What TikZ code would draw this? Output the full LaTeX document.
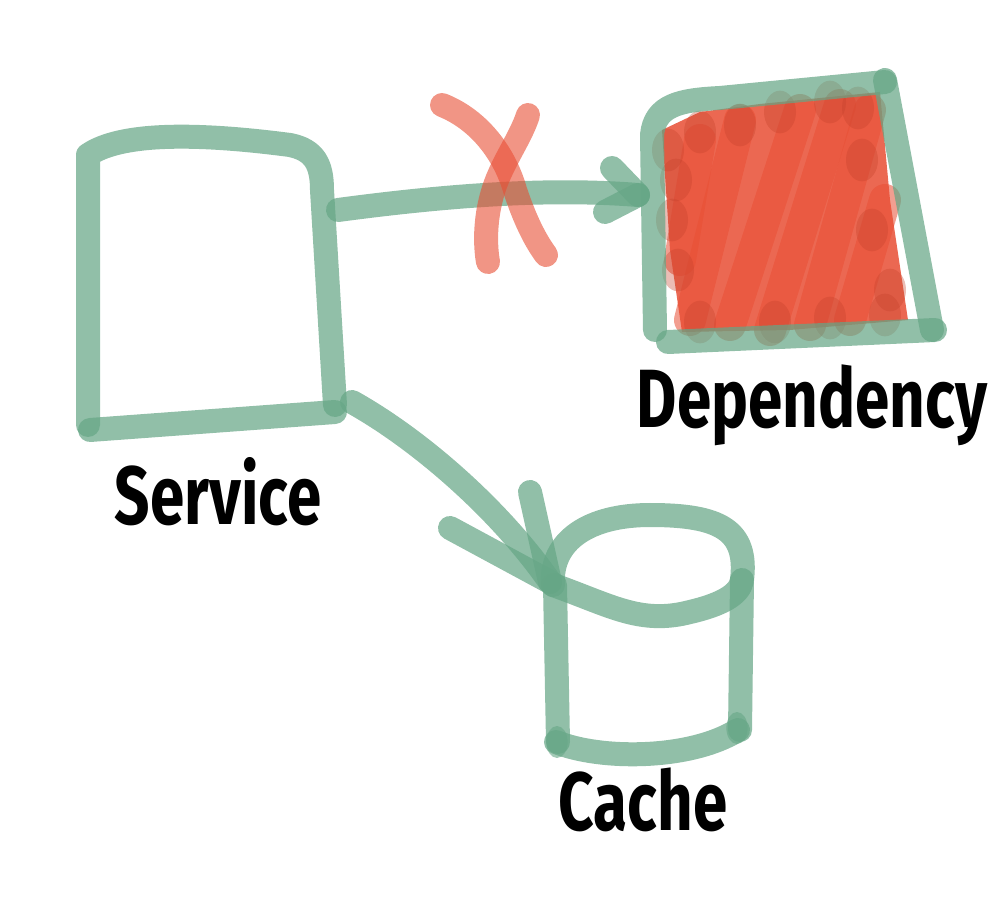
\documentclass[tikz,border=0pt]{standalone}
\usepackage{fontspec}
\setmainfont{Fira Sans}
\begin{document}
\begin{tikzpicture}[x=0.75pt,y=-0.75pt,
  pen/.style={draw=penc,line width=18pt,line cap=round,line join=round,draw opacity=0.72},
  redpen/.style={draw=redc,line width=18pt,line cap=round,line join=round,draw opacity=0.6},
  scrib/.style={draw=redc,line width=24pt,line cap=round,draw opacity=0.55},
  lab/.style={font=\bfseries\fontsize{62}{62}\selectfont,text=black,inner sep=0pt,xscale=0.75}]
\definecolor{penc}{RGB}{102,166,134}
\definecolor{redc}{RGB}{232,78,52}
\useasboundingbox (0,0) rectangle (1008,902);
% ---------- Dependency red fill ----------
\fill[redc,opacity=0.85] (662,130) -- (700,112) -- (760,104) -- (880,92) -- (890,200) -- (908,320) -- (790,330) -- (682,332) -- (670,250) -- cycle;
\foreach \a/\b in {{690,320}/{740,120},{730,325}/{800,110},{770,330}/{840,105},{810,325}/{870,110},{850,320}/{885,200},{680,260}/{700,140}}
  \draw[scrib] (\a) -- (\b);
\foreach \p in {(668,150),(700,132),(740,125),(780,112),(830,102),(858,108),(862,160),(872,230),(890,290),(672,220),(678,270),(700,322),(775,322),(830,318),(885,315),(676,180)}
  \fill[redc!85!black,opacity=0.35] \p ellipse (12pt and 16pt);
% ---------- Dependency box ----------
\node (dep) at (795,215) {};
\draw[pen] (655,330) -- (652,135) .. controls (655,105) and (680,100) .. (720,98) -- (885,82);
\draw[pen] (885,80) -- (932,330);
\draw[pen] (668,342) -- (935,330);
% ---------- Service box ----------
\node (svc) at (210,280) {};
\draw[pen] (88,425) -- (88,155) .. controls (110,140) and (160,128) .. (290,145) .. controls (315,150) and (322,165) .. (322,190) -- (335,405);
\draw[pen] (90,430) -- (335,412);
% ---------- Arrow to Dependency ----------
\coordinate (a1s) at (338,210);
\coordinate (a1e) at (638,195);
\draw[pen] (a1s) .. controls (450,195) and (550,188) .. (a1e);
\draw[pen] (612,168) -- (a1e);
\draw[pen] (605,212) -- (a1e);
% ---------- Red X ----------
\draw[redpen] (442,105) .. controls (480,120) and (505,155) .. (515,190) .. controls (525,220) and (535,240) .. (546,255);
\draw[redpen] (528,115) .. controls (520,140) and (500,165) .. (492,195) .. controls (485,220) and (485,245) .. (488,262);
% ---------- Arrow to Cache ----------
\coordinate (a2s) at (352,402);
\coordinate (a2e) at (550,582);
\draw[pen] (a2s) .. controls (420,440) and (500,510) .. (a2e);
\draw[pen] (530,492) -- (a2e);
\draw[pen] (450,528) -- (a2e);
% ---------- Cache cylinder ----------
\node (cache) at (645,650) {};
\draw[pen] (553,585) .. controls (550,540) and (590,515) .. (650,515) .. controls (720,515) and (748,530) .. (742,580) -- (740,730);
\draw[pen] (553,585) .. controls (610,605) and (640,625) .. (690,612) .. controls (720,605) and (740,595) .. (742,580);
\draw[pen] (555,585) -- (558,742);
\draw[pen] (556,742) .. controls (600,760) and (690,760) .. (738,730);
\fill[penc,opacity=0.6] (557,742) ellipse (8pt and 12pt);
\fill[penc,opacity=0.6] (737,728) ellipse (8pt and 12pt);
% ---------- Labels ----------
\node[lab] (svclab) at (218,492) {Service};
\node[lab] (deplab) at (812,405) {Dependency};
\node[lab] (cachelab) at (643,800) {Cache};
\end{tikzpicture}
\end{document}
